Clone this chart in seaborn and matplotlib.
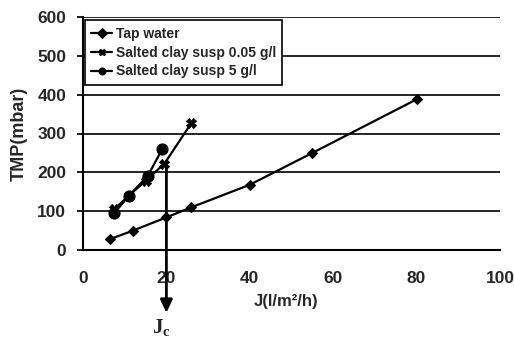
import matplotlib
matplotlib.use("Agg")
import matplotlib.pyplot as plt
import seaborn as sns
import pandas as pd

# Data
tap_x = [6.5, 12, 20, 26, 40, 55, 80]
tap_y = [28, 50, 84, 110, 168, 250, 388]
clay005_x = [7.5, 11, 15, 19.5, 26]
clay005_y = [105, 140, 178, 222, 327]
clay5_x = [7.5, 11, 15.5, 19]
clay5_y = [95, 140, 190, 260]
series_names = ["Tap water", "Salted clay susp 0.05 g/l", "Salted clay susp 5 g/l"]
x_ticks = [0, 20, 40, 60, 80, 100]
y_ticks = [0, 100, 200, 300, 400, 500, 600]
jc_value = 20

sns.set_theme(style="white")
plt.rcParams['font.family'] = ['Liberation Sans', 'DejaVu Sans']
plt.rcParams['mathtext.fontset'] = 'custom'
plt.rcParams['mathtext.bf'] = 'Liberation Serif:bold'
plt.rcParams['mathtext.rm'] = 'Liberation Serif'

fig = plt.figure(figsize=(5.14, 3.39), dpi=100)
ax = fig.add_axes([83/514, 1 - 250/339, (500 - 83)/514, (250 - 17)/339])

df = pd.concat([
    pd.DataFrame({"J": tap_x, "TMP": tap_y, "series": series_names[0]}),
    pd.DataFrame({"J": clay005_x, "TMP": clay005_y, "series": series_names[1]}),
    pd.DataFrame({"J": clay5_x, "TMP": clay5_y, "series": series_names[2]}),
])

markers = {series_names[0]: "D", series_names[1]: "X", series_names[2]: "o"}
sizes = {series_names[0]: 5, series_names[1]: 7, series_names[2]: 8}
for name in series_names:
    sub = df[df["series"] == name]
    sns.lineplot(data=sub, x="J", y="TMP", ax=ax, color="black", linewidth=1.6,
                 marker=markers[name], markersize=sizes[name], markeredgecolor="black",
                 markerfacecolor="black", label=name, sort=False)

ax.set_xlim(0, 100)
ax.set_ylim(0, 600)
ax.set_xticks(x_ticks)
ax.set_yticks(y_ticks)
ax.set_xticklabels([str(v) for v in x_ticks], fontsize=12.5, fontweight="bold")
ax.set_yticklabels([str(v) for v in y_ticks], fontsize=12.5, fontweight="bold")
ax.tick_params(axis="x", pad=15, length=4, direction="in", color="black")
ax.tick_params(axis="y", pad=8, length=4, direction="out", color="black", left=True)
ax.yaxis.grid(True, color="black", linewidth=1.2)
ax.set_axisbelow(True)
for s in ["top", "right"]:
    ax.spines[s].set_visible(False)
for s in ["left", "bottom"]:
    ax.spines[s].set_color("black")
    ax.spines[s].set_linewidth(1.5)

ax.set_xlabel("J(l/m²/h)", fontsize=12, fontweight="bold", labelpad=0)
ax.xaxis.set_label_coords(0.487, -0.19)
ax.set_ylabel("TMP(mbar)", fontsize=13, fontweight="bold", labelpad=0)
ax.yaxis.set_label_coords(-0.133, 0.5)

# Critical flux arrow
ax.annotate("", xy=(jc_value, -162), xytext=(jc_value, 222),
            xycoords="data", textcoords="data",
            arrowprops=dict(arrowstyle="-|>,head_width=0.3,head_length=0.65",
                            color="black", lw=2.0, shrinkA=0, shrinkB=0),
            annotation_clip=False)
ax.text(jc_value - 1.2, -199, r"$\mathbf{J_c}$", ha="center", va="center", fontsize=15,
        clip_on=False)

leg = ax.legend(loc="upper left", bbox_to_anchor=(0.005, 0.985),
                frameon=True, fancybox=False, edgecolor="black", framealpha=1,
                handlelength=1.5, handletextpad=0.25, borderpad=0.45, labelspacing=0.35,
                borderaxespad=0.0,
                prop={"weight": "bold", "size": 10})
leg.get_frame().set_linewidth(1.2)
for h in leg.legend_handles:
    h.set_markersize(5)

fig.savefig("out.png", dpi=100)
